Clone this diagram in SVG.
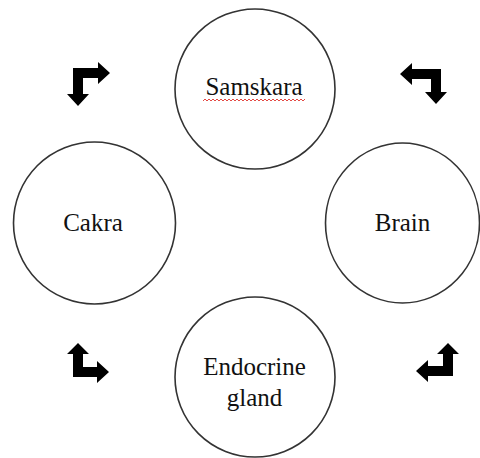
<svg xmlns="http://www.w3.org/2000/svg" width="480" height="458" viewBox="0 0 480 458">
  <style>
    .node circle, .node ellipse { fill: #ffffff; stroke: #333333; stroke-width: 1.6; }
    .label { font-family: "Liberation Serif", "Times New Roman", serif; font-size: 25px; fill: #111111; text-anchor: middle; }
    .arrow { fill: #000000; stroke: none; }
  </style>
  <defs>
    <pattern id="squiggle" x="203" y="98" width="4" height="4" patternUnits="userSpaceOnUse">
      <polyline points="0,3 2,1 4,3" fill="none" stroke="#e0342f" stroke-width="0.9"/>
    </pattern>
  </defs>
  <rect x="0" y="0" width="480" height="458" fill="#ffffff"/>

  <g id="samskara" class="node">
    <circle cx="255" cy="89" r="80"/>
    <text class="label" x="254" y="95">Samskara</text>
    <rect x="203" y="98" width="102" height="4" fill="url(#squiggle)"/>
  </g>

  <g id="cakra" class="node">
    <circle cx="94.5" cy="223" r="81"/>
    <text class="label" x="93" y="231">Cakra</text>
  </g>

  <g id="brain" class="node">
    <ellipse cx="402.5" cy="223" rx="77" ry="80"/>
    <text class="label" x="402.5" y="231">Brain</text>
  </g>

  <g id="endocrine" class="node">
    <circle cx="255" cy="377" r="80"/>
    <text class="label" x="254.5" y="375">Endocrine</text>
    <text class="label" x="254.5" y="406">gland</text>
  </g>

  <g id="connectors">
    <polygon class="arrow" points="73,68 98,68 98,62 110,73 98,84 98,78 83,78 83,94 89,94 78,106 67,94 73,94"/>
    <polygon class="arrow" points="441,69 412,69 412,63 400,74 412,85 412,79 431,79 431,92 425,92 436,104 447,92 441,92"/>
    <polygon class="arrow" points="73,377 73,354 67,354 78,343 89,354 83,354 83,367 97,367 97,361 109,372 97,383 97,377"/>
    <polygon class="arrow" points="453,376 453,354 459,354 448,343 437,354 443,354 443,366 428,366 428,360 416,371 428,382 428,376"/>
  </g>
</svg>
